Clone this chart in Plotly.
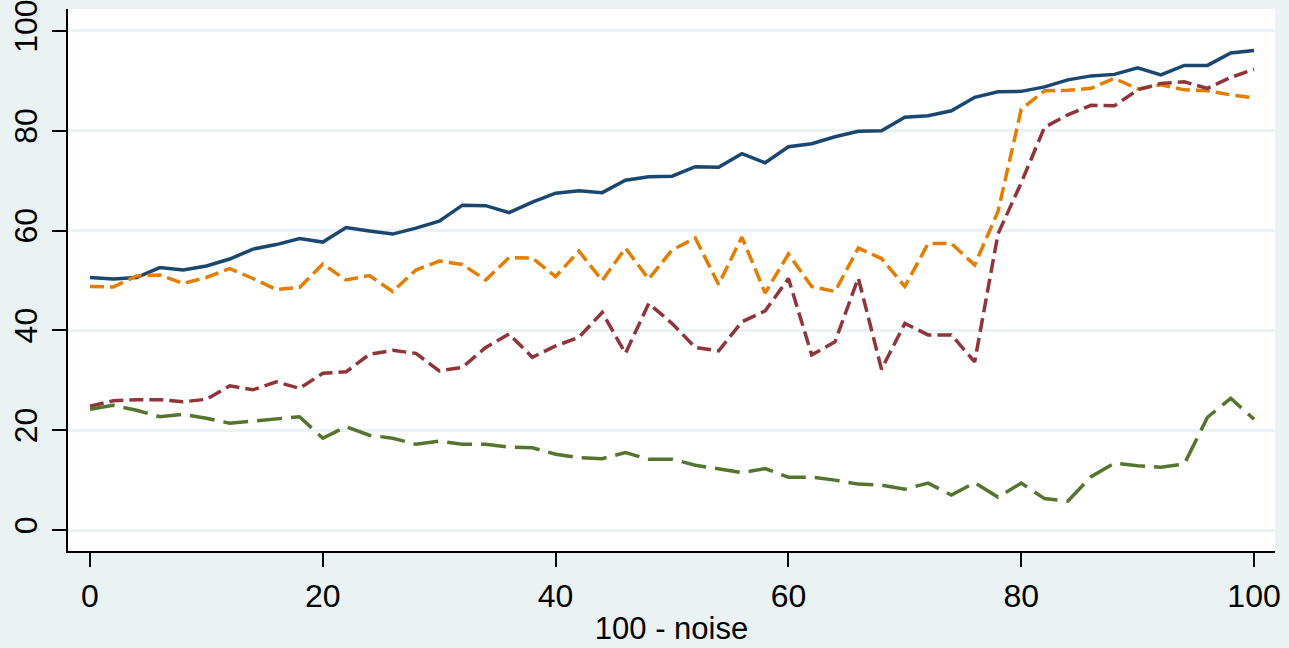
import plotly.graph_objects as go

x_vals = list(range(0, 101, 2))

series_blue = [50.6, 50.3, 50.6, 52.6, 52.1, 52.9, 54.3, 56.3, 57.2, 58.4,
               57.7, 60.6, 59.9, 59.3, 60.5, 61.9, 65.1, 65.0, 63.6, 65.7,
               67.5, 68.0, 67.6, 70.1, 70.8, 70.9, 72.8, 72.7, 75.4, 73.6,
               76.8, 77.4, 78.8, 79.9, 80.0, 82.7, 83.0, 84.0, 86.7, 87.8,
               87.9, 88.8, 90.2, 91.0, 91.3, 92.6, 91.2, 93.1, 93.1, 95.6, 96.1]

series_orange = [48.8, 48.7, 50.9, 51.1, 49.4, 50.6, 52.4, 50.4, 48.2, 48.6,
                 53.3, 50.1, 51.0, 47.8, 52.1, 53.9, 53.2, 50.1, 54.6, 54.5,
                 50.8, 55.9, 50.0, 56.5, 50.3, 56.1, 58.5, 49.2, 58.7, 47.5,
                 55.3, 48.8, 47.8, 56.5, 54.4, 48.8, 57.4, 57.4, 53.1, 63.8,
                 84.3, 88.0, 88.1, 88.5, 90.5, 88.4, 89.2, 88.2, 88.0, 87.2, 86.6]

series_red = [24.8, 25.9, 26.1, 26.1, 25.7, 26.2, 28.9, 28.1, 29.7, 28.4,
              31.4, 31.7, 35.2, 36.0, 35.4, 31.9, 32.6, 36.6, 39.3, 34.6,
              36.9, 38.6, 43.6, 35.4, 45.4, 41.4, 36.6, 35.9, 41.7, 43.9,
              50.4, 35.1, 37.7, 50.5, 32.2, 41.4, 39.1, 39.1, 33.7, 59.3,
              69.6, 80.7, 83.2, 85.1, 85.0, 88.2, 89.5, 89.8, 88.5, 90.7, 92.3]

series_green = [24.2, 25.0, 24.0, 22.7, 23.2, 22.4, 21.4, 21.8, 22.3, 22.7,
                18.4, 20.7, 19.0, 18.4, 17.2, 17.8, 17.2, 17.2, 16.6, 16.5,
                15.2, 14.5, 14.3, 15.5, 14.2, 14.2, 13.0, 12.2, 11.5, 12.3,
                10.6, 10.6, 10.0, 9.2, 9.0, 8.2, 9.4, 7.0, 9.5, 6.6,
                9.4, 6.3, 5.8, 10.7, 13.4, 12.9, 12.6, 13.2, 22.6, 26.4, 22.2]

tick_vals = [0, 20, 40, 60, 80, 100]
tick_text = ["0", "20", "40", "60", "80", "100"]
x_title = "100 - noise"

BG = "#eaf2f3"
FONT = "Liberation Sans, Arial, sans-serif"

fig = go.Figure()
fig.add_trace(go.Scatter(x=x_vals, y=series_blue, mode="lines",
                         line=dict(color="#1a476f", width=3.5, dash="solid")))
fig.add_trace(go.Scatter(x=x_vals, y=series_orange, mode="lines",
                         line=dict(color="#e37e00", width=3.5, dash="14px,6px")))
fig.add_trace(go.Scatter(x=x_vals, y=series_red, mode="lines",
                         line=dict(color="#90353b", width=3.5, dash="14px,6px")))
fig.add_trace(go.Scatter(x=x_vals, y=series_green, mode="lines",
                         line=dict(color="#55752f", width=3.5, dash="25px,9px")))

fig.update_layout(
    width=1289, height=648,
    paper_bgcolor=BG, plot_bgcolor="white",
    margin=dict(l=68, r=14, t=9, b=97, autoexpand=False),
    showlegend=False,
    font=dict(family=FONT, size=32, color="black"),
)
fig.update_xaxes(
    range=[-1.89, 101.8], tickvals=tick_vals, ticktext=tick_text,
    showgrid=False, zeroline=False, automargin=False,
    showline=True, linecolor="black", linewidth=1.5,
    ticks="outside", ticklen=14, tickwidth=1.5, tickcolor="black",
    tickfont=dict(size=32), ticklabelstandoff=2, ticklabeloverflow="allow",
    title=dict(text=x_title, font=dict(size=31), standoff=4),
)
fig.update_yaxes(
    range=[-4.2, 104.4], tickvals=tick_vals, ticktext=tick_text,
    showgrid=True, gridcolor=BG, gridwidth=2.5, zeroline=False, automargin=False,
    showline=True, linecolor="black", linewidth=1.5,
    ticks="outside", ticklen=14, tickwidth=1.5, tickcolor="black",
    tickfont=dict(size=32), tickangle=-90, ticklabelstandoff=2,
    ticklabeloverflow="allow",
)

fig.write_html(
    "out.html",
    config={"displayModeBar": False},
    post_script="document.body.style.margin='0px';"
                "document.body.style.background='" + BG + "';"
                "document.body.style.overflow='hidden';",
)
